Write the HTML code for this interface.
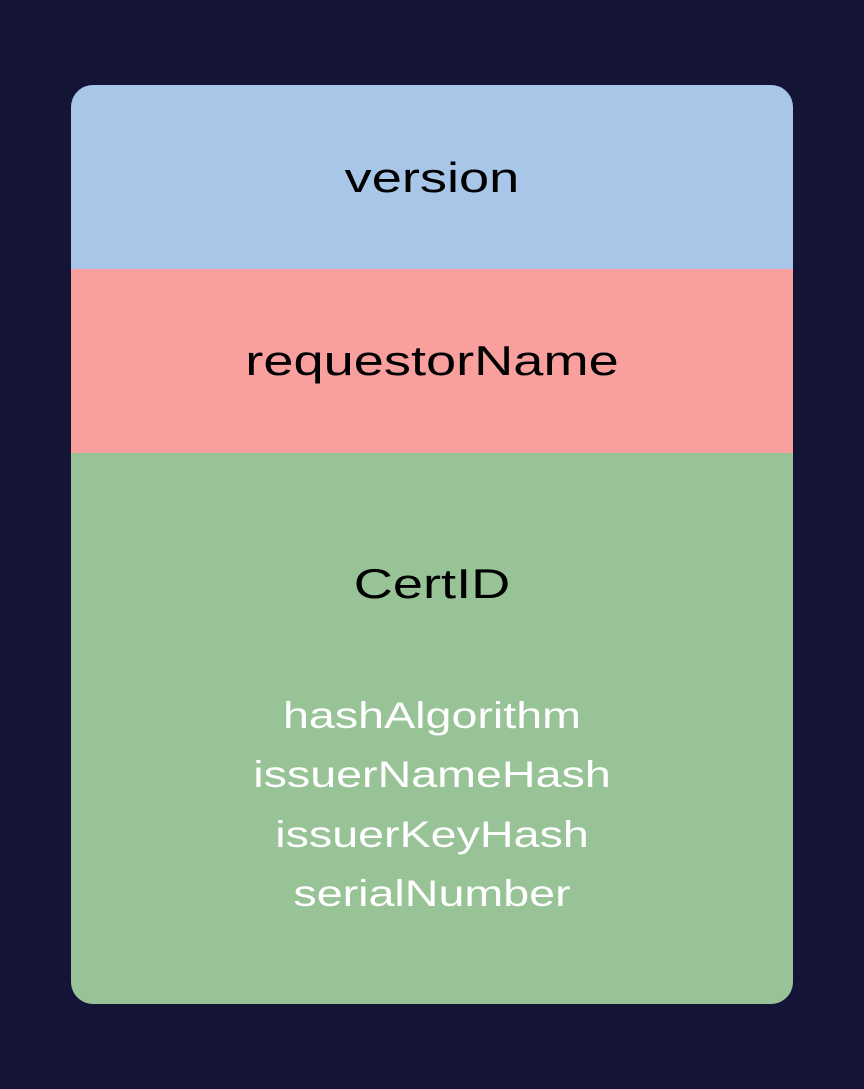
<!DOCTYPE html>
<html><head><style>
html,body{margin:0;padding:0}
body{width:864px;height:1089px;background:#141437;position:relative;font-family:"Liberation Sans",sans-serif;overflow:hidden}
.box{position:absolute;left:71px;top:85px;width:722px;height:919px;border-radius:22px;overflow:hidden}
.b{position:absolute;left:0;width:100%}
.t{position:absolute;width:100%;text-align:center;color:#000;font-size:42px;line-height:1;transform:scaleX(1.29)}
.s{position:absolute;width:100%;text-align:center;color:#fff;font-size:37px;line-height:1;transform:scaleX(1.26)}
</style></head><body>
<div class="box">
<div class="b" style="top:0;height:184px;background:#a7c6e8"></div>
<div class="b" style="top:184px;height:184px;background:#f9a09f"></div>
<div class="b" style="top:368px;height:551px;background:#98c396"></div>
<div class="t" style="top:72px">version</div>
<div class="t" style="top:255px">requestorName</div>
<div class="t" style="top:478px">CertID</div>
<div class="s" style="top:612px">hashAlgorithm</div>
<div class="s" style="top:671px">issuerNameHash</div>
<div class="s" style="top:731px">issuerKeyHash</div>
<div class="s" style="top:790px">serialNumber</div>
</div>
</body></html>
